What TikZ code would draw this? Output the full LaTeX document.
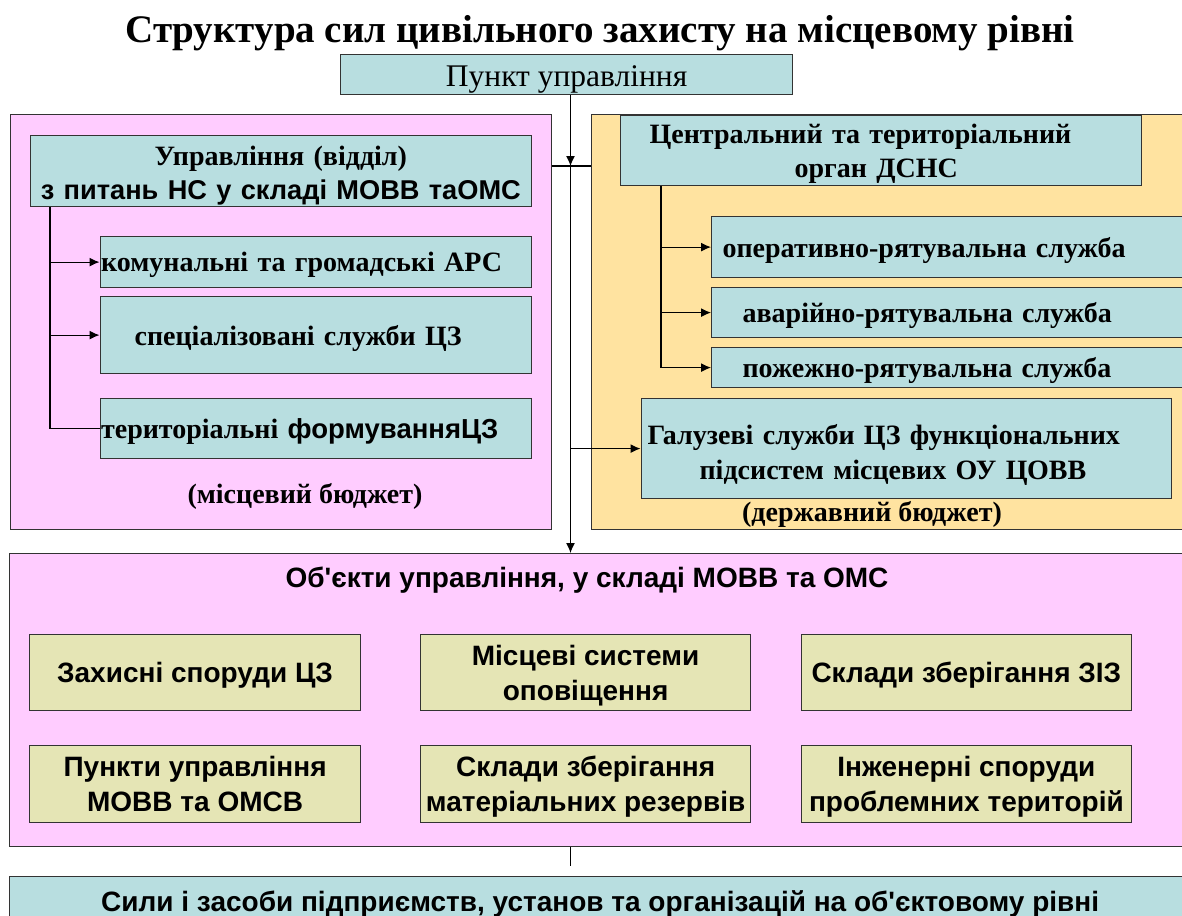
\documentclass[tikz,border=0pt]{standalone}
\usepackage{fontspec}
\setmainfont{Liberation Serif}
\setsansfont{Liberation Sans}[Ligatures=TeXOff]
\usetikzlibrary{arrows.meta}
\definecolor{panelpink}{HTML}{FFCCFF}
\definecolor{panelsand}{HTML}{FFE3A0}
\definecolor{boxblue}{HTML}{B8DEE0}
\definecolor{boxolive}{HTML}{E5E5B5}
\begin{document}
\begin{tikzpicture}[x=1pt, y=-1pt, >={Latex[length=10pt,width=9pt]},
  panel/.style = {draw=black!80, line width=1.2pt, anchor=north west, inner sep=0pt},
  unit/.style = {draw=black!80, line width=1.2pt, fill=boxblue, anchor=north west, inner sep=0pt, font=\fontsize{28}{34}\selectfont\bfseries},
  oneline/.style = {text depth=0pt},
  obj/.style = {draw=black!80, line width=1.2pt, fill=boxolive, anchor=north west, inner sep=0pt, align=center, minimum width=331pt, minimum height=76pt, text depth=0pt, font=\fontsize{28}{35}\selectfont\sffamily\bfseries},
  link/.style = {line width=1.2pt}]
\useasboundingbox (0,0) rectangle (1182,915);
\clip (0,0) rectangle (1182,915);

\node[font=\fontsize{39}{46}\selectfont\bfseries, anchor=base] (title) at (600,43) {Структура сил цивільного захисту на місцевому рівні};
\node[unit, oneline, font=\fontsize{31.5}{36}\selectfont, text height=24pt, minimum width=452pt, minimum height=40pt] (punkt) at (340,54) {Пункт управління};

\node[panel, fill=panelpink, minimum width=541pt, minimum height=415pt] (lpanel) at (10,114) {};
\node[panel, fill=panelsand, minimum width=600pt, minimum height=415pt] (rpanel) at (590.5,114) {};
\node[panel, fill=panelpink, minimum width=1181pt, minimum height=293pt] (objects) at (9,553) {};

\node[unit, text width=501.5pt, align=center, text depth=30pt, minimum height=71pt] (upr) at (29.5,135) {Управління (відділ)\\{\fontsize{27.2}{34}\selectfont\sffamily з питань НС у складі МОВВ таОМС}};
\node[unit, oneline, text width=429.5pt, inner xsep=1pt, align=left, minimum height=51pt] (komun) at (99.5,236) {комунальні та громадські АРС};
\node[unit, oneline, text width=362.5pt, inner xsep=34.5pt, align=left, minimum height=77pt] (spec) at (99.5,296) {спеціалізовані служби ЦЗ};
\node[unit, oneline, text width=429.5pt, inner xsep=1pt, align=left, minimum height=60pt] (terit) at (99.5,398) {територіальні {\fontsize{27.5}{34}\selectfont\sffamily формуванняЦЗ}};
\node[font=\fontsize{28}{34}\selectfont\bfseries, anchor=base] (mbudget) at (305,503) {(місцевий бюджет)};

\node[unit, text width=463pt, inner xsep=29pt, align=left, text depth=33pt, minimum height=70pt] (centr) at (620,115) {Центральний та територіальний\\\hspace*{145pt}орган ДСНС};
\node[unit, oneline, text width=448.5pt, inner xsep=11pt, align=left, minimum height=61pt] (oper) at (711,216) {оперативно-рятувальна служба};
\node[unit, oneline, text width=408.5pt, inner xsep=31pt, align=left, minimum height=50pt] (avar) at (711,287) {аварійно-рятувальна служба};
\node[unit, oneline, text width=408.5pt, inner xsep=31pt, align=left, minimum height=40pt] (pozh) at (711,347) {пожежно-рятувальна служба};
\node[unit, text width=517.5pt, inner xsep=6.5pt, align=left, text depth=29pt, minimum height=100pt, font=\fontsize{28}{35}\selectfont\bfseries] (galuz) at (640.5,398) {Галузеві служби ЦЗ функціональних\\\hspace*{52pt}підсистем місцевих ОУ ЦОВВ};
\node[font=\fontsize{28}{34}\selectfont\bfseries, anchor=base] (dbudget) at (872,521) {(державний бюджет)};

\node[font=\fontsize{28}{34}\selectfont\sffamily\bfseries, anchor=base] (objtitle) at (587,587) {Об'єкти управління, у складі МОВВ та ОМС};
\node[obj] (shelter) at (29,634) {Захисні споруди ЦЗ};
\node[obj, minimum width=330pt] (alert) at (420,634) {Місцеві системи\\оповіщення};
\node[obj, minimum width=330.5pt] (ziz) at (800.5,634) {Склади зберігання ЗІЗ};
\node[obj, minimum height=77pt] (posts) at (29,745) {Пункти управління\\МОВВ та ОМСВ};
\node[obj, minimum width=330pt, minimum height=77pt] (reserve) at (420,745) {Склади зберігання\\матеріальних резервів};
\node[obj, minimum width=330.5pt, minimum height=77pt] (engin) at (800.5,745) {Інженерні споруди\\проблемних територій};

\node[unit, oneline, font=\fontsize{28}{34}\selectfont\sffamily\bfseries, minimum width=1181pt, minimum height=48pt] (objlevel) at (9,876) {Сили і засоби підприємств, установ та організацій на об'єктовому рівні};

\coordinate (jn) at (570.5,166);
\coordinate (gap) at (570.5,866);
\coordinate (ltrunk) at (50,0);
\coordinate (rtrunk) at (661,0);

\draw[link,->] (punkt.south -| jn) -- (jn);
\draw[link] (lpanel.east |- jn) -- (rpanel.west |- jn);
\draw[link,->] (jn) -- (objects.north -| jn);
\draw[link,->] (jn |- galuz.west) -- (galuz.west);
\draw[link] (objects.south -| gap) -- (gap);

\draw[link] (upr.south -| ltrunk) |- (terit.west);
\draw[link,->] (ltrunk |- komun.west) -- (komun.west);
\draw[link,->] (ltrunk |- spec.west) -- (spec.west);

\draw[link,->] (centr.south -| rtrunk) |- (pozh.west);
\draw[link,->] (rtrunk |- oper.west) -- (oper.west);
\draw[link,->] (rtrunk |- avar.west) -- (avar.west);
\end{tikzpicture}
\end{document}
